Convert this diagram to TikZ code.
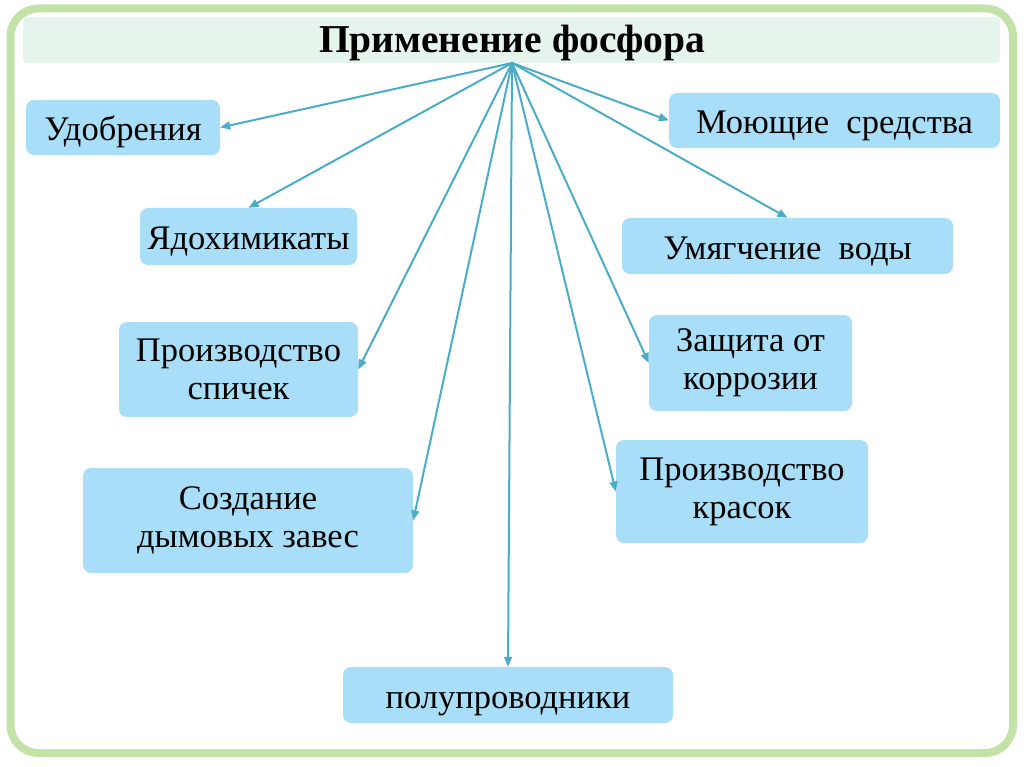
\documentclass[tikz,border=0pt]{standalone}
\usepackage{fontspec}
\setmainfont{Liberation Serif}
\usetikzlibrary{arrows.meta}

\definecolor{framegreen}{RGB}{195,226,168}
\definecolor{bandgreen}{RGB}{230,245,236}
\definecolor{boxblue}{RGB}{168,222,247}
\definecolor{arrowblue}{RGB}{75,172,198}

\tikzset{
  usebox/.style={rectangle, rounded corners=8pt, fill=boxblue, inner sep=0pt,
    align=center, font=\fontsize{34.5}{38}\selectfont},
  oneline/.style={text height=30pt, text depth=4pt},
  usearrow/.style={draw=arrowblue, line width=2pt, -{Triangle[length=10pt,width=8pt]}}
}

\begin{document}
\begin{tikzpicture}[x=1pt, y=-1pt]

  \useasboundingbox (0,0) rectangle (1024,767);

  % The green frame
  \draw[framegreen, line width=8pt, rounded corners=28pt] (10.5,8.5) rectangle (1013,753);

  % Title band
  \node[rectangle, rounded corners=4pt, fill=bandgreen, minimum width=977pt, minimum height=46pt,
    inner sep=0pt] (band) at (511.5,40) {};
  \node[font=\fontsize{39.5}{44}\selectfont\bfseries, inner sep=0pt] (title) at (512,43) {Применение фосфора};
  \coordinate (src) at (512,63);

  % Left column
  \node[usebox, oneline, minimum width=194pt, minimum height=55pt] (udob) at (123,127.5) {Удобрения};
  \node[usebox, oneline, minimum width=217pt, minimum height=57pt] (yad) at (248.5,236.5) {Ядохимикаты};
  \node[usebox, minimum width=239pt, minimum height=95pt] (spich) at (238.5,369.5) {Производство\\спичек};
  \node[usebox, minimum width=330pt, minimum height=105pt] (dym) at (248,520.5) {Создание\\дымовых завес};

  % Bottom
  \node[usebox, oneline, minimum width=330pt, minimum height=56pt] (polu) at (508,695) {полупроводники};

  % Right column
  \node[usebox, oneline, minimum width=331pt, minimum height=55pt] (moy) at (834.5,120.5) {Моющие\ \ средства};
  \node[usebox, oneline, minimum width=331pt, minimum height=56pt] (umyag) at (787.5,246) {Умягчение\ \ воды};
  \node[usebox, minimum width=203pt, minimum height=96pt] (zash) at (750.5,363) {Защита от\\коррозии};
  \node[usebox, minimum width=252pt, minimum height=103pt] (krasok) at (742,491.5) {Производство\\красок};

  % Arrows from the title
  \draw[usearrow] (src) -- (udob.east);
  \draw[usearrow] (src) -- (yad.north);
  \draw[usearrow] (src) -- (spich.east);
  \draw[usearrow] (src) -- (dym.east);
  \draw[usearrow] (src) -- (polu.north);
  \draw[usearrow] (src) -- (moy.west);
  \draw[usearrow] (src) -- (umyag.north);
  \draw[usearrow] (src) -- (zash.west);
  \draw[usearrow] (src) -- (krasok.west);

\end{tikzpicture}
\end{document}
